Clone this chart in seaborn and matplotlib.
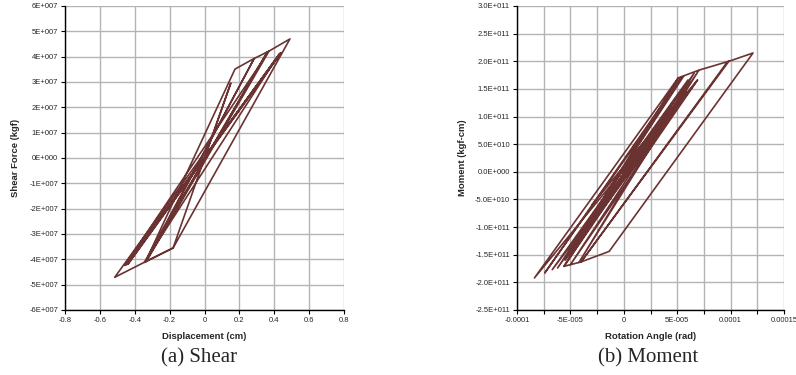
import numpy as np
import pandas as pd
import seaborn as sns
import matplotlib
matplotlib.use("Agg")
import matplotlib.pyplot as plt

# shear hysteresis turning points: displacement (cm), shear force (kgf)
shear_disp = [0.0, 0.151, -0.18, -0.34, 0.285, -0.333, 0.37, -0.457, 0.435, -0.45,
              0.44, -0.44, 0.43, -0.345, 0.36, -0.34, 0.175, 0.28, 0.37, 0.49,
              -0.18, -0.352, -0.515, 0.0]
shear_force = [0.0, 2.96e7, -3.55e7, -4.10e7, 3.93e7, -4.08e7, 4.22e7, -4.24e7, 4.14e7, -4.22e7,
               4.16e7, -4.20e7, 4.12e7, -4.12e7, 4.18e7, -4.12e7, 3.51e7, 3.91e7, 4.22e7, 4.70e7,
               -3.55e7, -4.14e7, -4.71e7, 0.2e7]

# moment hysteresis turning points: rotation (rad), moment (kgf-cm)
rot_angle = [0.0, 3.2e-5, -2.8e-5, 4.5e-5, -4.5e-5, 5.1e-5, -5.6e-5, 6.0e-5, -6.7e-5, 6.9e-5,
             -5.5e-5, 5.4e-5, -7.4e-5, 5.6e-5, -6.2e-5, 6.6e-5, -4.2e-5, 7.0e-5, -5.0e-5,
             6.9e-5, -8.37e-5, 5.1e-5, 7.04e-5, 9.84e-5, -4.0e-5, 9.7e-5, 12.1e-5,
             -1.37e-5, -4.0e-5, -5.6e-5, 6.2e-5, -4.4e-5, 5.8e-5, -3.0e-5]
moment = [0.0, 8.6e10, -8.2e10, 12.3e10, -12.8e10, 17.0e10, -17.1e10, 16.6e10, -17.7e10, 16.6e10,
          -16.0e10, 17.2e10, -18.3e10, 17.3e10, -17.4e10, 17.9e10, -16.4e10, 18.3e10, -16.8e10,
          16.6e10, -19.2e10, 17.0e10, 18.4e10, 20.0e10, -16.3e10, 19.9e10, 21.5e10,
          -14.4e10, -16.3e10, -17.1e10, 16.2e10, -13.0e10, 14.5e10, -6.0e10]

shear_xticks = [-0.8, -0.6, -0.4, -0.2, 0, 0.2, 0.4, 0.6, 0.8]
shear_xlabels = ["-0.8", "-0.6", "-0.4", "-0.2", "0", "0.2", "0.4", "0.6", "0.8"]
shear_yticks = [i * 1e7 for i in range(-6, 7)]
shear_ylabels = ["-6E+007", "-5E+007", "-4E+007", "-3E+007", "-2E+007", "-1E+007", "0E+000",
                 "1E+007", "2E+007", "3E+007", "4E+007", "5E+007", "6E+007"]

moment_xticks = [i * 2.5e-5 for i in range(-4, 7)]
moment_xlabels = ["-0.0001", "", "-5E-005", "", "0", "", "5E-005", "", "0.0001", "", "0.00015"]
moment_yticks = [i * 5e10 for i in range(-5, 7)]
moment_ylabels = ["-2.5E+011", "-2.0E+011", "-1.5E+011", "-1.0E+011", "-5.0E+010", "0.0E+000",
                  "5.0E+010", "1.0E+011", "1.5E+011", "2.0E+011", "2.5E+011", "3.0E+011"]

LINE_COLOR = "#6b3232"

sns.set_style("white")
plt.rcParams['font.family'] = ['Liberation Sans', 'DejaVu Sans']

fig = plt.figure(figsize=(7.96, 3.75), dpi=100)
ax1 = fig.add_axes([65 / 796, 1 - 310 / 375, 279 / 796, 304 / 375])
ax2 = fig.add_axes([517 / 796, 1 - 310 / 375, 267 / 796, 304 / 375])

df_shear = pd.DataFrame({"disp": shear_disp, "force": shear_force})
df_moment = pd.DataFrame({"rot": rot_angle, "moment": moment})

sns.lineplot(data=df_shear, x="disp", y="force", sort=False, estimator=None,
             color=LINE_COLOR, linewidth=1.2, ax=ax1)
sns.lineplot(data=df_moment, x="rot", y="moment", sort=False, estimator=None,
             color=LINE_COLOR, linewidth=1.2, ax=ax2)


def style_axes(ax, xticks, xlabels, yticks, ylabels, xlabel, ylabel, ylab_x):
    ax.set_xlim(xticks[0], xticks[-1])
    ax.set_ylim(yticks[0], yticks[-1])
    ax.set_xticks(xticks)
    ax.set_xticklabels(xlabels, fontsize=5.5)
    ax.set_yticks(yticks)
    ax.set_yticklabels(ylabels, fontsize=5.5)
    ax.grid(True, color="#b4b4b4", linewidth=1.0)
    ax.set_axisbelow(True)
    for side in ["top", "right"]:
        ax.spines[side].set_visible(False)
    for side in ["left", "bottom"]:
        ax.spines[side].set_color("black")
        ax.spines[side].set_linewidth(1.0)
    ax.tick_params(axis="both", direction="out", length=3, width=0.8, color="black",
                   pad=2, bottom=True, left=True)
    ax.set_xlabel(xlabel, fontsize=6.8, fontweight="bold")
    ax.set_ylabel(ylabel, fontsize=6.8, fontweight="bold")
    ax.xaxis.set_label_coords(0.5, -0.072)
    ax.yaxis.set_label_coords(ylab_x, 0.5)


style_axes(ax1, shear_xticks, shear_xlabels, shear_yticks, shear_ylabels,
           "Displacement (cm)", "Shear Force (kgf)", -0.163)
style_axes(ax2, moment_xticks, moment_xlabels, moment_yticks, moment_ylabels,
           "Rotation Angle (rad)", "Moment (kgf-cm)", -0.187)

fig.text(199 / 796, 1 - 358 / 375, "(a) Shear", ha="center", va="center",
         fontsize=15, family="Liberation Serif")
fig.text(648 / 796, 1 - 358 / 375, "(b) Moment", ha="center", va="center",
         fontsize=15, family="Liberation Serif")

fig.savefig("out.png", dpi=100)
